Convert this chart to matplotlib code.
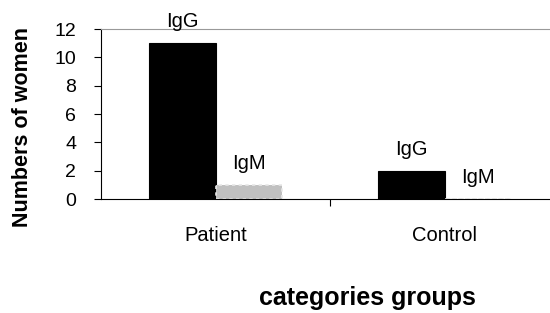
import matplotlib
matplotlib.use("Agg")
import matplotlib.pyplot as plt
import numpy as np

plt.rcParams['font.family'] = ['Liberation Sans', 'DejaVu Sans']

categories = ["Patient", "Control"]
series_names = ["IgG", "IgM"]
igg = [11, 2]
igm = [1, 0]

fig = plt.figure(figsize=(5.5, 3.13), dpi=100)
W, H = 550, 313
left, right, top, bottom = 101, 559, 29, 199
ax = fig.add_axes([left / W, 1 - bottom / H, (right - left) / W, (bottom - top) / H])

x = np.arange(len(categories))
bw = 0.29
off = 0.145
ax.bar(x - off, igg, bw, color="black", edgecolor="black", linewidth=0.8)
ax.bar(x + off, igm, bw, color="#c0c0c0", edgecolor="#e8e8e8", linewidth=1.2, linestyle=(0, (2, 2)))

for xi, v in zip(x - off, igg):
    ax.text(xi, v + 1.13, series_names[0], ha="center", va="baseline", fontsize=14.5)
for xi, v in zip(x + off, igm):
    ax.text(xi, v + 1.13, series_names[1], ha="center", va="baseline", fontsize=14.5)

ax.set_xlim(-0.5, 1.5)
ax.set_ylim(0, 12)
ax.set_yticks(range(0, 13, 2))
ax.set_xticks([0.5])
ax.set_xticklabels([""])
ax.tick_params(axis="both", direction="out", length=5, width=0.8, labelsize=14)
ax.tick_params(axis="y", pad=13)
for xi, c in zip(x, categories):
    ax.text(xi, -2.96, c, ha="center", va="baseline", fontsize=14.5)

ax.spines["right"].set_visible(False)
ax.spines["top"].set_color("#999999")
ax.spines["top"].set_linewidth(0.8)
ax.spines["left"].set_linewidth(0.8)
ax.spines["bottom"].set_linewidth(0.8)

fig.text(23 / W, 1 - 127 / H, "Numbers of women", rotation=90, ha="center", va="center",
         fontsize=15.5, fontweight="bold")
fig.text(367 / W, 1 - 305 / H, "categories groups", ha="center", va="baseline",
         fontsize=18, fontweight="bold")

fig.savefig("out.png", dpi=100)
